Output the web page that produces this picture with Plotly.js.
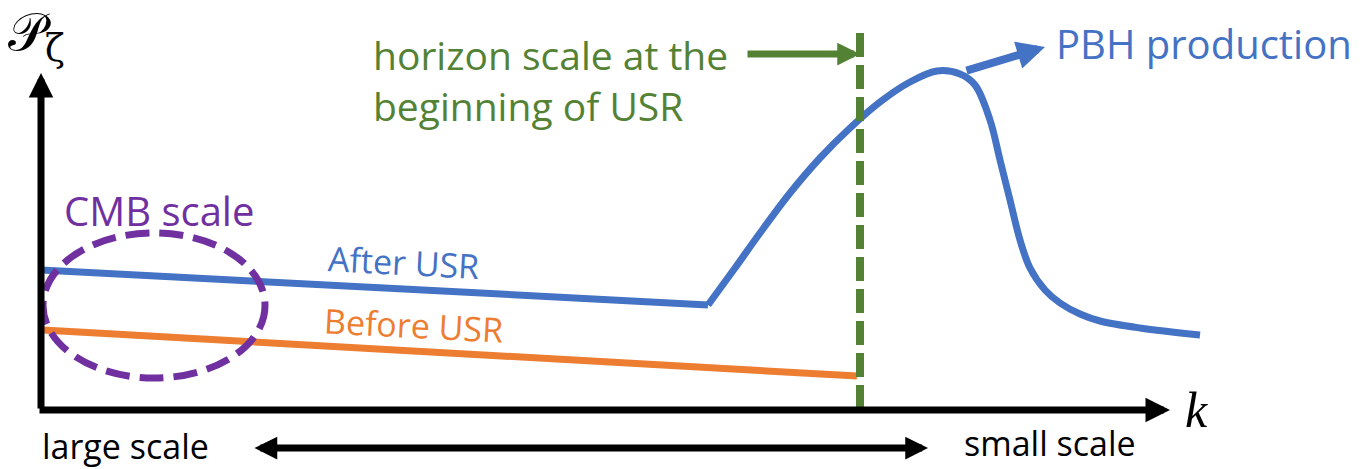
<!DOCTYPE html>
<html>
<head>
<meta charset="utf-8">
<script src="https://cdn.plot.ly/plotly-3.0.1.min.js"></script>
<style>html,body{margin:0;padding:0;background:#fff;}#chart{width:1364px;height:469px;}</style>
</head>
<body>
<div id="chart"></div>
<script>
// Schematic coordinates (k along x, P_zeta along y; y grows downward in this frame)
const afterFlatK = [41, 708];
const afterFlatP = [270, 305];
const afterPeakK = [708, 735, 760, 790, 820, 850, 880, 910, 937, 960, 975, 990, 1000, 1010, 1020, 1030, 1045, 1060, 1080, 1100, 1140, 1200];
const afterPeakP = [305, 268, 233, 193, 158, 128, 102, 82, 71, 74, 85, 120, 160, 200, 240, 268, 290, 303, 314, 321, 328, 335];
const beforeK  = [43, 857];
const beforeP  = [330, 376];
const horizonK = [860, 860];
const horizonP = [33, 410];
const cmbEllipse = [43, 233, 265, 378]; // x0, y0, x1, y1
const axisY = [41, 410, 41, 73];        // tail x, tail y, tip x, tip y
const axisX = [38, 410, 1170, 410];
const greenArrow = [746, 54, 860, 54];
const blueArrow = [965, 71, 1045, 47];
const scaleArrow = [253, 448, 928, 448];

const BLUE = '#4472C4', ORANGE = '#ED7D31', GREEN = '#548235', PURPLE = '#7030A0';
const FONT = 'Open Sans, Lato, sans-serif';

const traces = [
  {x: beforeK, y: beforeP, mode: 'lines', line: {color: ORANGE, width: 7}, hoverinfo: 'skip'},
  {x: afterFlatK, y: afterFlatP, mode: 'lines', line: {color: BLUE, width: 7}, hoverinfo: 'skip'},
  {x: afterPeakK, y: afterPeakP, mode: 'lines', line: {color: BLUE, width: 7, shape: 'spline', smoothing: 1}, hoverinfo: 'skip'},
  {x: horizonK, y: horizonP, mode: 'lines', line: {color: GREEN, width: 8, dash: '24px,8px'}, hoverinfo: 'skip'}
];

function arrow(a, color, width, size, both) {
  return {x: a[2], y: a[3], ax: a[0], ay: a[1], xref: 'x', yref: 'y', axref: 'x', ayref: 'y',
    text: '', showarrow: true, arrowhead: 2, arrowsize: size, arrowwidth: width, arrowcolor: color,
    arrowside: both ? 'end+start' : 'end', startarrowhead: 2, startarrowsize: size};
}
function label(x, y, text, color, size, opts) {
  return Object.assign({x: x, y: y, xref: 'x', yref: 'y', text: text, showarrow: false,
    xanchor: 'left', yanchor: 'middle', font: {family: FONT, size: size, color: color}}, opts || {});
}

const annotations = [
  arrow(axisY, '#000', 7, 0.7),
  arrow(axisX, '#000', 7, 0.7),
  arrow(greenArrow, GREEN, 7, 0.65),
  arrow(blueArrow, BLUE, 8, 0.7),
  arrow(scaleArrow, '#000', 7, 0.65, true),
  label(371, 80, 'horizon scale at the<br>beginning of USR', GREEN, 39, {align: 'left'}),
  label(1054, 43, 'PBH production', BLUE, 40),
  label(62, 210, 'CMB scale', PURPLE, 40),
  label(403, 262, 'After USR', BLUE, 34, {xanchor: 'center', textangle: 3}),
  label(413, 325, 'Before USR', ORANGE, 34, {xanchor: 'center', textangle: 3}),
  label(40, 446, 'large scale', '#000', 34),
  label(962, 443, 'small scale', '#000', 34),
  label(1183, 410, '<i>k</i>', '#000', 50, {font: {family: 'Liberation Serif, DejaVu Serif, serif', size: 50, color: '#000'}}),
  label(6, 36, '𝒫<sub>ζ</sub>', '#000', 52, {font: {family: 'DejaVu Serif, Liberation Serif, serif', size: 52, color: '#000'}})
];

const layout = {
  width: 1364, height: 469,
  margin: {l: 0, r: 0, t: 0, b: 0},
  paper_bgcolor: '#fff', plot_bgcolor: '#fff',
  showlegend: false,
  xaxis: {range: [0, 1364], visible: false, fixedrange: true},
  yaxis: {range: [469, 0], visible: false, fixedrange: true},
  shapes: [{type: 'circle', xref: 'x', yref: 'y', x0: cmbEllipse[0], y0: cmbEllipse[1], x1: cmbEllipse[2], y1: cmbEllipse[3],
    line: {color: PURPLE, width: 7, dash: '24px,10px'}}],
  annotations: annotations
};

Plotly.newPlot('chart', traces, layout, {staticPlot: true, displayModeBar: false});
</script>
</body>
</html>
